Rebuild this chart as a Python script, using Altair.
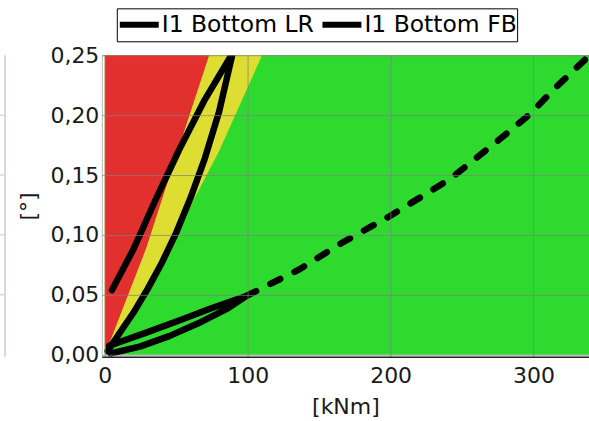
import altair as alt
import pandas as pd

# ---- axis ticks / domains ----
X_TICKS = [0, 100, 200, 300]
Y_TICKS = [0.0, 0.05, 0.10, 0.15, 0.20, 0.25]
X_DOMAIN = [-2.1, 338.8]
Y_DOMAIN = [-0.0017, 0.25]

# ---- zone boundaries (kNm, deg) ----
ZONE_TOP = 0.25
GREEN_X = [0, 338.8]
YEL_X = [0, 45, 80, 110]
YEL_Y = [0, 0.09, 0.17, 0.25]
RED_X = [0, 29, 51, 73]
RED_Y = [0, 0.089, 0.17, 0.25]

# ---- series ----
SERIES = ["I1 Bottom LR", "I1 Bottom FB"]
LR_X = [2, 10, 20, 30, 40, 50, 60, 70, 80, 89.5, 70, 52, 35, 20, 5]
LR_Y = [0.003, 0.0175, 0.035, 0.055, 0.077, 0.102, 0.131, 0.164, 0.203, 0.252, 0.213, 0.171, 0.128, 0.088, 0.054]
FB_X = [4, 25, 45, 65, 85, 99, 75, 52, 28, 3]
FB_Y = [0.001, 0.007, 0.0155, 0.026, 0.038, 0.049, 0.039, 0.0285, 0.018, 0.0075]
DASH_X = [99, 136, 166, 199, 241, 276, 297, 316, 341]
DASH_Y = [0.049, 0.0712, 0.0935, 0.1154, 0.1462, 0.1796, 0.2004, 0.2237, 0.252]

# neighbouring panel edge (only its right border and grid stubs are visible)
STUB_GRID = [0.05, 0.10, 0.15, 0.20]

RED = "#e2302e"
YELLOW = "#dede32"
GREEN = "#2fda2f"
FONT = "DejaVu Sans"

xs = alt.Scale(domain=X_DOMAIN, nice=False, zero=False)
ys = alt.Scale(domain=Y_DOMAIN, nice=False, zero=False)

x_axis = alt.Axis(values=X_TICKS, title="[kNm]", ticks=False, labelPadding=9, titlePadding=10,
                  grid=True, domainColor="#222222", domainWidth=1.5, labelFlush=False, zindex=1)
y_axis = alt.Axis(values=Y_TICKS, title="[°]", ticks=False, domain=False, labelPadding=3,
                  titlePadding=9, grid=True, labelFlush=False, zindex=1,
                  labelExpr="replace(format(datum.value, '.2f'), '.', ',')")

green = alt.Chart(pd.DataFrame({"x": [GREEN_X[0]], "x2": [GREEN_X[1]], "y": [0.0], "y2": [ZONE_TOP]})).mark_rect(
    color=GREEN).encode(x=alt.X("x:Q", scale=xs, axis=x_axis), x2="x2:Q",
                        y=alt.Y("y:Q", scale=ys, axis=y_axis), y2="y2:Q")

yellow = alt.Chart(pd.DataFrame({"x": YEL_X, "y": YEL_Y, "y2": [ZONE_TOP] * len(YEL_X)})).mark_area(
    color=YELLOW).encode(x=alt.X("x:Q", scale=xs, axis=x_axis), y=alt.Y("y:Q", scale=ys, axis=y_axis), y2="y2:Q")

red = alt.Chart(pd.DataFrame({"x": RED_X, "y": RED_Y, "y2": [ZONE_TOP] * len(RED_X)})).mark_area(
    color=RED).encode(x=alt.X("x:Q", scale=xs, axis=x_axis), y=alt.Y("y:Q", scale=ys, axis=y_axis), y2="y2:Q")

dashed = alt.Chart(pd.DataFrame({"x": DASH_X, "y": DASH_Y})).mark_line(
    color="black", strokeWidth=6.5, strokeDash=[11, 16], strokeCap="round", clip=True).encode(
    x=alt.X("x:Q", scale=xs, axis=x_axis), y=alt.Y("y:Q", scale=ys, axis=y_axis))

lines_df = pd.DataFrame({
    "x": LR_X + FB_X,
    "y": LR_Y + FB_Y,
    "series": [SERIES[0]] * len(LR_X) + [SERIES[1]] * len(FB_X),
    "order": list(range(len(LR_X))) + list(range(len(FB_X))),
})

legend = alt.Legend(title=None, orient="none", legendX=15, legendY=-47, direction="horizontal",
                    symbolType="stroke", symbolSize=1521, symbolStrokeWidth=6, clipHeight=33,
                    labelFont=FONT, labelFontSize=23.5, labelColor="black", labelOffset=0, labelLimit=0,
                    columnPadding=5, padding=0, strokeColor="black", fillColor="white")

lines = alt.Chart(lines_df).mark_line(strokeWidth=6.5, strokeCap="round", strokeJoin="round", clip=True).encode(
    x=alt.X("x:Q", scale=xs, axis=x_axis),
    y=alt.Y("y:Q", scale=ys, axis=y_axis),
    color=alt.Color("series:N", scale=alt.Scale(domain=SERIES, range=["#000000", "#000000"]), legend=legend),
    order="order:Q",
)

main = alt.layer(green, yellow, red, dashed, lines)

stub_scale = alt.Scale(domain=[0, 1], range=[-102, -97])
stub_v = alt.Chart(pd.DataFrame({"s": [1]})).mark_rule(color="#b0b4c0", strokeWidth=1).encode(
    x=alt.X("s:Q", scale=stub_scale, axis=None))
stub_h = alt.Chart(pd.DataFrame({"s0": [0] * len(STUB_GRID), "s1": [1] * len(STUB_GRID), "y": STUB_GRID})).mark_rule(
    color="#c8c8c8", strokeWidth=1).encode(
    x=alt.X("s0:Q", scale=stub_scale, axis=None), x2="s1:Q",
    y=alt.Y("y:Q", scale=ys, axis=y_axis))
stub = alt.layer(stub_v, stub_h)

chart = alt.layer(main, stub).resolve_scale(x="independent").properties(
    width=488, height=302,
    autosize=alt.AutoSizeParams(type="none"),
    padding={"left": 102, "top": 55, "right": 0, "bottom": 64},
    background="white",
).configure_view(stroke="#b8b8b8", strokeWidth=1).configure_axis(
    labelFont=FONT, labelFontSize=22, labelColor="#1a1a1a",
    titleFont=FONT, titleFontSize=22, titleFontWeight="normal", titleColor="#1a1a1a",
    gridColor="#7f7f7f", gridOpacity=0.7, gridWidth=1,
)

chart.save("out.html", embed_options={"renderer": "svg", "actions": False})
